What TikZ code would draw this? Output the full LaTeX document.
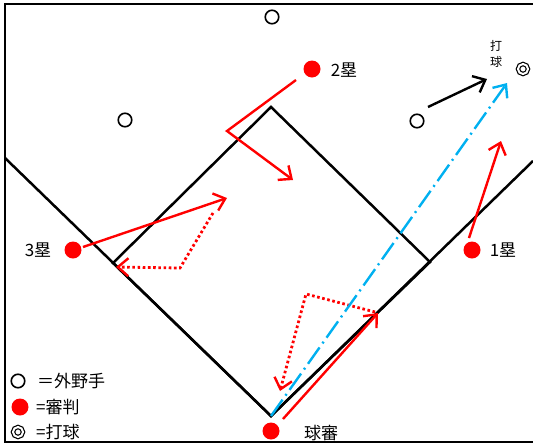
\documentclass[tikz,border=0pt]{standalone}
\usepackage{fontspec}
\setmainfont{Noto Sans CJK JP}
\usetikzlibrary{arrows.meta}

\tikzset{
  field/.style={line width=2.5pt, black},
  fielder/.style={circle, draw=black, line width=1.6pt, minimum size=13.5pt, inner sep=0pt},
  umpire/.style={circle, fill=red, minimum size=17pt, inner sep=0pt},
  batted/.style={circle, draw=black, line width=1.2pt, double=white, double distance=2pt,
    minimum size=10pt, inner sep=0pt},
  txt/.style={font=\fontsize{17}{20}\selectfont, inner sep=0pt},
  move/.style={red, line width=2.4pt, -{Straight Barb[length=10.5pt, width=18pt]}},
  back/.style={red, line width=2.8pt, dash pattern=on 2.6pt off 2.6pt,
    -{Straight Barb[length=10.5pt, width=18pt, line width=2.4pt]}},
  flight/.style={color={rgb,255:red,0;green,176;blue,240}, line width=2.4pt,
    dash pattern=on 20pt off 5pt on 2pt off 5pt,
    -{Straight Barb[length=10.5pt, width=18pt]}}
}

\begin{document}
\begin{tikzpicture}[x=1pt, y=-1pt]
\useasboundingbox (0,0) rectangle (533,445);
% frame:
\draw [line width=2pt] (533,3.5) -- (5,3.5) -- (5,442) -- (533,442);

% foul lines and diamond:
\coordinate (home) at (271,416);
\coordinate (first) at (430,262);
\coordinate (second) at (271,107);
\coordinate (third) at (113,263);
\draw [field] (5,158) -- (home) -- (533,161);
\draw [field] (home) -- (first) -- (second) -- (third) -- cycle;

% outfielders and the ball:
\node [fielder] (cf) at (272,17) {};
\node [fielder] (lf) at (125,120) {};
\node [fielder] (rf) at (417,121) {};
\node [batted] (ball) at (523,69) {};
\node [font=\fontsize{12}{16}\selectfont, align=center, inner sep=0pt] (balltxt) at (496,54) {打\\球};

% umpires:
\node [umpire] (ump2) at (312,69) {};
\node [umpire] (ump3) at (73,250) {};
\node [umpire] (ump1) at (472,250) {};
\node [umpire] (umph) at (271,431) {};
\node [txt] (lab2) at (344,70) {2塁};
\node [txt] (lab3) at (38,250) {3塁};
\node [txt] (lab1) at (503,250) {1塁};
\node [txt] (labh) at (321,433) {球審};

% movements:
\coordinate (a2) at (296,80);
\coordinate (b2) at (227,131);
\coordinate (c2) at (293,180);
\draw [move] (a2) -- (b2) -- (c2);

\coordinate (a3) at (83,247);
\coordinate (b3) at (227,198);
\draw [move] (a3) -- (b3);
\coordinate (d3) at (213,213);
\coordinate (e3) at (180,268);
\coordinate (f3) at (116,267);
\draw [back] (d3) -- (e3) -- (f3);

\coordinate (a1) at (469,238);
\coordinate (b1) at (501,141);
\draw [move] (a1) -- (b1);

\coordinate (ah) at (283,419);
\coordinate (bh) at (378,313);
\draw [move] (ah) -- (bh);
\coordinate (dh) at (375,312);
\coordinate (eh) at (306,294);
\coordinate (fh) at (280,391);
\draw [back] (dh) -- (eh) -- (fh);

% the ball in flight:
\draw [flight] (home) -- (507,83);
\coordinate (rfend) at (487,79);
\draw [line width=2.4pt, -{Straight Barb[length=10.5pt, width=18pt]}] (428,107) -- (rfend);

% legend:
\node [fielder] (keyf) at (18,381) {};
\node [umpire] (keyu) at (20,407) {};
\node [batted] (keyb) at (18,432) {};
\node [txt, anchor=west] at (37,381) {＝外野手};
\node [txt, anchor=west] at (36,407) {=審判};
\node [txt, anchor=west] at (36,432) {=打球};
\end{tikzpicture}
\end{document}
